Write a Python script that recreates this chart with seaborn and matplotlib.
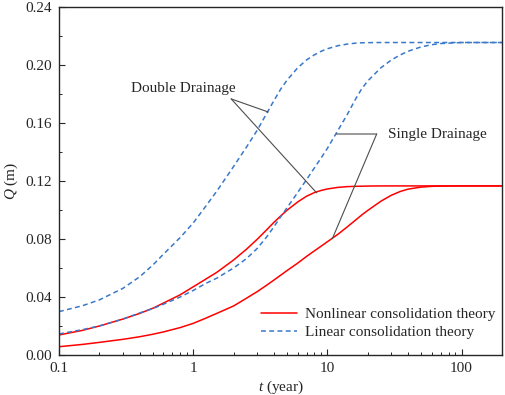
import matplotlib
matplotlib.use("Agg")
import matplotlib.pyplot as plt
import numpy as np
import pandas as pd
import seaborn as sns
from matplotlib.ticker import MultipleLocator, LogLocator, NullFormatter

# time (year)
t = [0.1, 0.15, 0.2, 0.3, 0.4, 0.5, 0.6, 0.8, 1, 1.25, 1.5, 2, 2.5, 3, 3.5, 4, 4.5, 5, 6, 7, 8, 9,
     10, 12, 14, 16, 18, 20, 25, 30, 35, 40, 50, 60, 70, 100, 150, 200]

# settlement Q (m)
lin_double = [0.0299, 0.034, 0.038, 0.046, 0.054, 0.062, 0.0695, 0.081, 0.091, 0.103, 0.113, 0.130,
              0.1435, 0.155, 0.166, 0.1755, 0.1835, 0.1895, 0.198, 0.2035, 0.207, 0.2095,
              0.2112, 0.2133, 0.2144, 0.215, 0.2153, 0.2154, 0.2155, 0.2155, 0.2155, 0.2155,
              0.2155, 0.2155, 0.2155, 0.2155, 0.2155, 0.2155]
lin_single = [0.0145, 0.0175, 0.020, 0.0248, 0.029, 0.032, 0.035, 0.040, 0.0445, 0.0495, 0.053, 0.060,
              0.0665, 0.0735, 0.081, 0.0885, 0.0955, 0.1015, 0.112, 0.121, 0.129, 0.136,
              0.1425, 0.155, 0.1655, 0.1755, 0.1835, 0.189, 0.198, 0.2035, 0.207, 0.2095,
              0.2125, 0.214, 0.2148, 0.2155, 0.2155, 0.2155]
nonlin_double = [0.0138, 0.017, 0.020, 0.0248, 0.0287, 0.0322, 0.0358, 0.0415, 0.047, 0.0525, 0.057, 0.0655,
                 0.073, 0.0798, 0.086, 0.0915, 0.096, 0.0998, 0.1055, 0.1095, 0.112, 0.1135,
                 0.1145, 0.1156, 0.1161, 0.1163, 0.1164, 0.1165, 0.1166, 0.1166, 0.1166, 0.1166,
                 0.1166, 0.1166, 0.1166, 0.1166, 0.1166, 0.1166]
nonlin_single = [0.0057, 0.0073, 0.0087, 0.0108, 0.0126, 0.0143, 0.0159, 0.0189, 0.0218, 0.0255, 0.0287, 0.0338,
                 0.0392, 0.0437, 0.0479, 0.0517, 0.0551, 0.0582, 0.0633, 0.068, 0.0718, 0.0751,
                 0.0781, 0.0833, 0.0882, 0.0926, 0.0965, 0.0997, 0.106, 0.1102, 0.1128, 0.1144,
                 0.1158, 0.1163, 0.1165, 0.1166, 0.1166, 0.1166]

legend_labels = ["Nonlinear consolidation theory", "Linear consolidation theory"]
x_ticks = [0.1, 1, 10, 100]
x_ticklabels = ["0.1", "1", "10", "100"]

RED = "#ff0000"
BLUE = "#3a78c9"

sns.set_style("ticks")
plt.rcParams["font.family"] = ["Liberation Serif", "DejaVu Serif"]
plt.rcParams["mathtext.fontset"] = "custom"
plt.rcParams["mathtext.it"] = "Liberation Serif:italic"
plt.rcParams["mathtext.rm"] = "Liberation Serif"
plt.rcParams["font.size"] = 11

fig = plt.figure(figsize=(5.05, 3.95), dpi=100)
ax = fig.add_axes([0.1168, 0.1013, 0.8772, 0.881])

df = pd.DataFrame({"t": t, "ld": lin_double, "ls": lin_single,
                   "nd": nonlin_double, "ns": nonlin_single})

dash = (3.2, 2.2)
sns.lineplot(data=df, x="t", y="nd", ax=ax, color=RED, lw=1.1, label=legend_labels[0])
sns.lineplot(data=df, x="t", y="ns", ax=ax, color=RED, lw=1.1, label="_nolegend_")
sns.lineplot(data=df, x="t", y="ld", ax=ax, color=BLUE, lw=1.1, label=legend_labels[1])
sns.lineplot(data=df, x="t", y="ls", ax=ax, color=BLUE, lw=1.1, label="_nolegend_")
for ln in ax.lines[2:4]:
    ln.set_dashes(dash)

ax.set_xscale("log")
ax.set_xlim(0.1, 200)
ax.set_ylim(0, 0.24)
ax.set_xticks(x_ticks, labels=x_ticklabels)
ax.xaxis.set_minor_locator(LogLocator(base=10, subs=np.arange(2, 10)))
ax.xaxis.set_minor_formatter(NullFormatter())
ax.yaxis.set_major_locator(MultipleLocator(0.04))
ax.yaxis.set_minor_locator(MultipleLocator(0.02))
ax.yaxis.set_major_formatter(plt.FormatStrFormatter("%.2f"))
ax.tick_params(which="both", direction="in", top=False, right=False, labelsize=11, color="0.15")
ax.tick_params(which="major", length=4.5, width=0.8, pad=5)
ax.tick_params(which="minor", length=2.5, width=0.7)
for s in ax.spines.values():
    s.set_linewidth(1.0)
    s.set_color("0.15")

ax.set_xlabel("$t$ (year)", fontsize=11, labelpad=3)
ax.set_ylabel("$Q$ (m)", fontsize=11, labelpad=4)

# annotations
ann = dict(arrowstyle="-", color="0.3", lw=0.8, shrinkA=0, shrinkB=0)
ax.text(0.345, 0.179, "Double Drainage", fontsize=11, ha="left", va="bottom")
ax.annotate("", xy=(3.62, 0.1676), xytext=(1.92, 0.1766), arrowprops=ann)
ax.annotate("", xy=(8.32, 0.1118), xytext=(1.92, 0.1766), arrowprops=ann)
ax.text(28.4, 0.1524, "Single Drainage", fontsize=11, ha="left", va="center")
ax.annotate("", xy=(11.7, 0.1524), xytext=(23.3, 0.1524), arrowprops=ann)
ax.annotate("", xy=(10.9, 0.0803), xytext=(23.3, 0.1524), arrowprops=ann)

handles, labels = ax.get_legend_handles_labels()
leg = ax.legend(handles, labels, loc="lower right", bbox_to_anchor=(1.016, 0.005), frameon=False,
                fontsize=11, handlelength=2.4, handletextpad=0.5, labelspacing=0.3)
leg.get_lines()[1].set_dashes(dash)

fig.savefig("out.png", dpi=100)
